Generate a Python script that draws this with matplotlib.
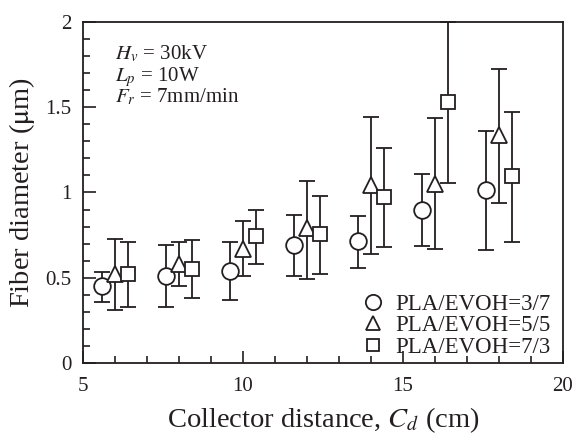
import matplotlib
matplotlib.use("Agg")
import matplotlib.pyplot as plt
from matplotlib.lines import Line2D
import numpy as np

plt.rcParams['font.family'] = ['Liberation Serif', 'DejaVu Serif']
plt.rcParams['mathtext.fontset'] = 'stix'

# data
x37 = [5.6, 7.6, 9.6, 11.6, 13.6, 15.6, 17.6]
y37 = [0.45, 0.51, 0.54, 0.69, 0.715, 0.90, 1.015]
lo37 = [0.36, 0.33, 0.37, 0.51, 0.56, 0.685, 0.66]
hi37 = [0.535, 0.69, 0.71, 0.87, 0.86, 1.11, 1.36]

x55 = [6.0, 8.0, 10.0, 12.0, 14.0, 16.0, 18.0]
y55 = [0.52, 0.58, 0.67, 0.79, 1.045, 1.05, 1.335]
lo55 = [0.31, 0.45, 0.51, 0.49, 0.64, 0.67, 0.94]
hi55 = [0.73, 0.71, 0.83, 1.07, 1.44, 1.435, 1.725]

x73 = [6.4, 8.4, 10.4, 12.4, 14.4, 16.4, 18.4]
y73 = [0.52, 0.55, 0.745, 0.755, 0.975, 1.53, 1.095]
lo73 = [0.33, 0.38, 0.58, 0.52, 0.68, 1.055, 0.71]
hi73 = [0.71, 0.72, 0.90, 0.98, 1.26, 2.0, 1.475]

labels = ['PLA/EVOH=3/7', 'PLA/EVOH=5/5', 'PLA/EVOH=7/3']
markers = ['o', '^', 's']
msizes = [12, 11, 9.5]
leg_sizes = [11, 10, 8.5]
xticks = [5, 10, 15, 20]
yticks = [0, 0.5, 1, 1.5, 2]
yticklabels = ['0', '0.5', '1', '1.5', '2']
notes = [r'$H_v$ = 30kV', r'$L_p$ = 10W', r'$F_r$ = 7mm/min']

col = '#231f20'
fig = plt.figure(figsize=(5.77, 4.37), dpi=100)
ax = fig.add_axes([0.1433, 0.1693, 0.8324, 0.7804])

series = [(x37, y37, lo37, hi37), (x55, y55, lo55, hi55), (x73, y73, lo73, hi73)]
for (x, y, lo, hi), lab, m, ms in zip(series, labels, markers, msizes):
    y = np.array(y); lo = np.array(lo); hi = np.array(hi)
    ax.errorbar(x, y, yerr=[y - lo, hi - y], fmt=m, ms=ms, mfc='white', mec=col,
                mew=1.3, ecolor=col, elinewidth=1.3, capsize=5.5, capthick=1.3,
                zorder=3, clip_on=False)

ax.set_xlim(5, 20)
ax.set_ylim(0, 2)
ax.set_xticks(xticks)
ax.set_xticks(np.arange(5, 21, 1), minor=True)
ax.set_yticks(yticks)
ax.set_yticklabels(yticklabels)
ax.set_yticks(np.arange(0, 2.01, 0.1), minor=True)
ax.tick_params(which='both', direction='in', top=False, right=False, colors=col,
               labelsize=15, width=1.2)
ax.tick_params(axis='x', which='major', pad=10)
ax.tick_params(axis='y', which='major', pad=8)
ax.tick_params(which='major', length=9)
ax.tick_params(which='minor', length=5)
for s in ax.spines.values():
    s.set_color(col)
    s.set_linewidth(1.3)

ax.set_xlabel(r'Collector distance, $C_d$ (cm)', fontsize=20.5, color=col, labelpad=7)
ax.set_ylabel(r'Fiber diameter ($\mathrm{\mu}$m)', fontsize=20.5, color=col, labelpad=6)

for txt, yy in zip(notes, [0.89, 0.827, 0.764]):
    ax.text(0.067, yy, txt, transform=ax.transAxes, fontsize=15, color=col,
            va='baseline', ha='left')

handles = [Line2D([], [], ls='none', marker=m, ms=s, mfc='white', mec=col, mew=1.3)
           for m, s in zip(markers, leg_sizes)]
leg = ax.legend(handles, labels, loc='lower right', bbox_to_anchor=(0.975, 0.015),
                frameon=False, fontsize=16.5, handletextpad=0.5, borderaxespad=0,
                borderpad=0, labelspacing=0.02, handlelength=1.0)
for t in leg.get_texts():
    t.set_color(col)

fig.savefig('out.png', dpi=100)
